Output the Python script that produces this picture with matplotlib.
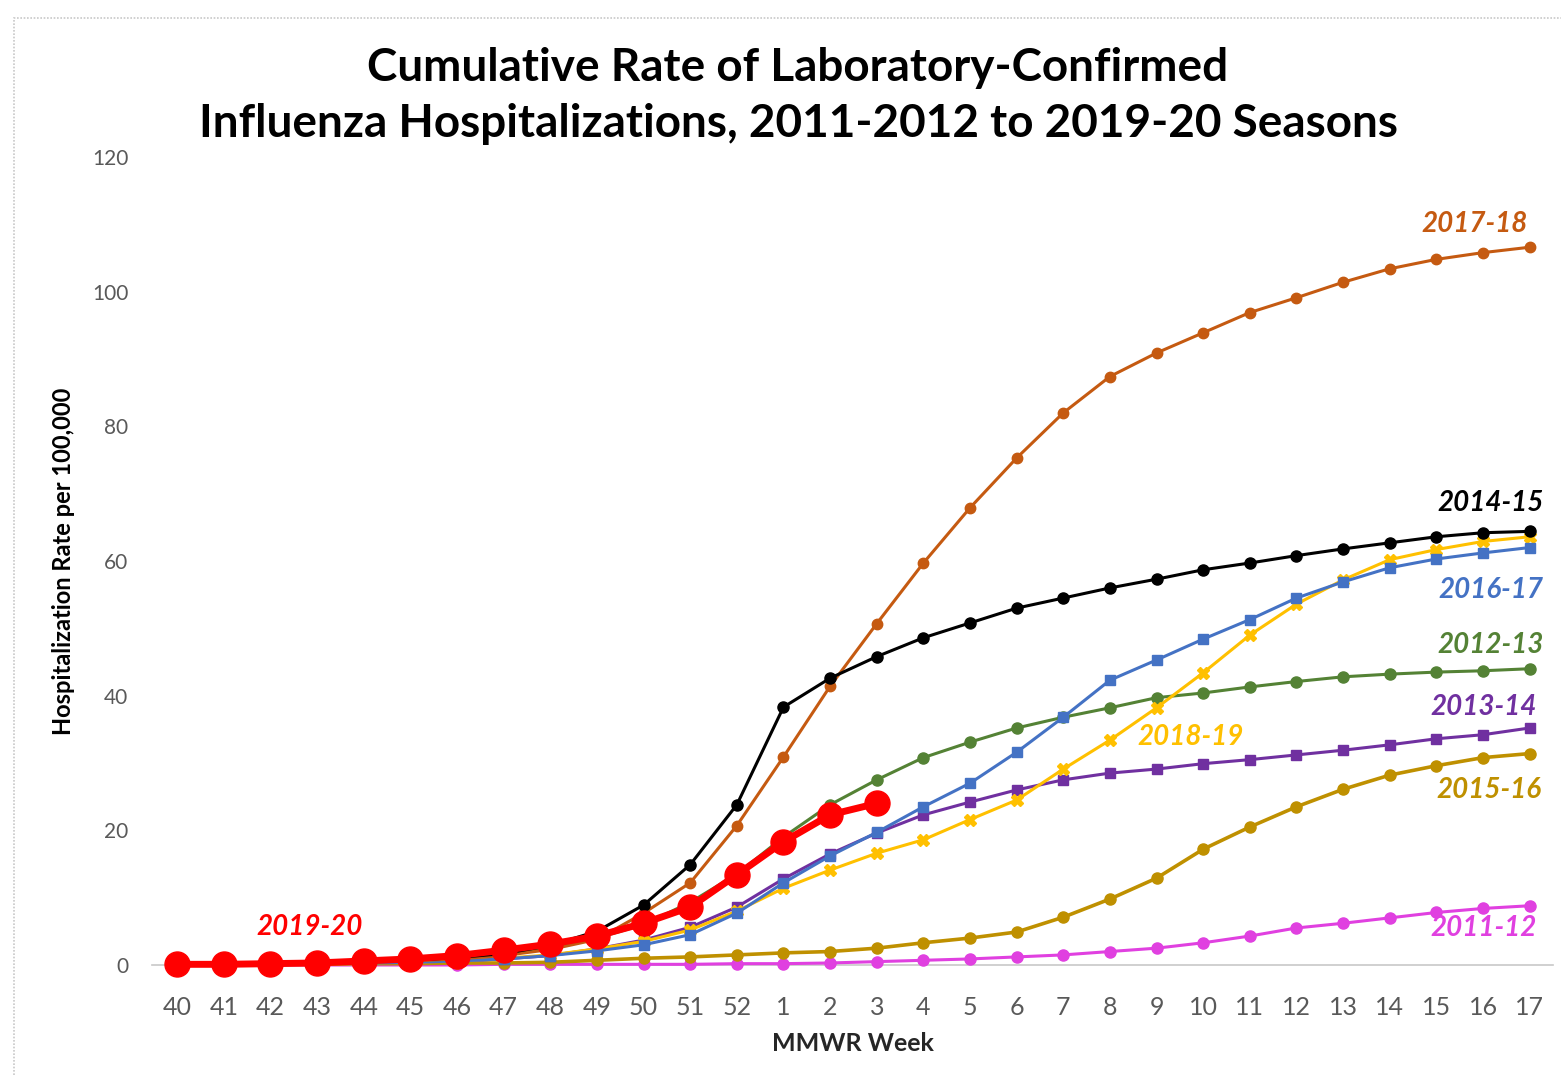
import matplotlib
matplotlib.use("Agg")
import matplotlib.pyplot as plt
from matplotlib.patches import Rectangle

plt.rcParams['font.family'] = ['Lato', 'DejaVu Sans']

weeks = ['40', '41', '42', '43', '44', '45', '46', '47', '48', '49', '50', '51', '52',
         '1', '2', '3', '4', '5', '6', '7', '8', '9', '10', '11', '12', '13', '14', '15', '16', '17']

s2011_12 = [0.0, 0.0, 0.0, 0.0, 0.0, 0.0, 0.0, 0.1, 0.1, 0.1, 0.1, 0.1, 0.2,
            0.2, 0.3, 0.5, 0.7, 0.9, 1.2, 1.5, 2.0, 2.5, 3.3, 4.3, 5.5, 6.2, 7.0, 7.8, 8.4, 8.8]
s2012_13 = [0.1, 0.1, 0.2, 0.3, 0.4, 0.6, 1.0, 1.6, 2.6, 4.0, 6.0, 9.3, 13.5,
            19.0, 23.8, 27.5, 30.8, 33.1, 35.2, 36.8, 38.2, 39.7, 40.4, 41.3, 42.1, 42.8, 43.2, 43.5, 43.7, 44.0]
s2013_14 = [0.1, 0.1, 0.1, 0.2, 0.3, 0.4, 0.6, 0.9, 1.4, 2.4, 3.7, 5.6, 8.6,
            12.8, 16.5, 19.6, 22.3, 24.2, 26.0, 27.5, 28.5, 29.1, 29.9, 30.5, 31.2, 31.9, 32.7, 33.6, 34.2, 35.2]
s2014_15 = [0.1, 0.1, 0.2, 0.3, 0.5, 0.7, 1.1, 1.7, 2.9, 5.0, 8.9, 14.9, 23.8,
            38.3, 42.6, 45.8, 48.6, 50.8, 53.0, 54.5, 56.0, 57.3, 58.7, 59.7, 60.8, 61.8, 62.7, 63.6, 64.2, 64.4]
s2015_16 = [0.1, 0.1, 0.1, 0.1, 0.2, 0.2, 0.3, 0.3, 0.4, 0.7, 1.0, 1.2, 1.5,
            1.8, 2.0, 2.5, 3.3, 4.0, 4.9, 7.1, 9.8, 12.9, 17.2, 20.5, 23.5, 26.1, 28.2, 29.6, 30.8, 31.4]
s2016_17 = [0.1, 0.1, 0.1, 0.2, 0.3, 0.4, 0.6, 0.9, 1.4, 2.1, 3.0, 4.5, 7.7,
            12.2, 16.2, 19.7, 23.5, 27.0, 31.6, 36.8, 42.3, 45.3, 48.4, 51.3, 54.5, 56.9, 59.0, 60.3, 61.2, 62.0]
s2017_18 = [0.1, 0.1, 0.2, 0.3, 0.4, 0.6, 0.9, 1.4, 2.3, 3.8, 7.7, 12.2, 20.7,
            30.9, 41.4, 50.7, 59.7, 67.9, 75.3, 82.0, 87.4, 90.9, 93.9, 96.9, 99.1, 101.4, 103.4, 104.8, 105.8, 106.6]
s2018_19 = [0.1, 0.1, 0.1, 0.2, 0.3, 0.4, 0.6, 1.0, 1.5, 2.4, 3.5, 5.2, 8.0,
            11.4, 14.1, 16.6, 18.6, 21.6, 24.5, 29.1, 33.4, 38.2, 43.4, 49.0, 53.6, 57.2, 60.2, 61.7, 62.9, 63.6]
s2019_20 = [0.1, 0.1, 0.2, 0.3, 0.6, 0.9, 1.4, 2.2, 3.1, 4.3, 6.2, 8.6, 13.4,
            18.3, 22.3, 24.0]

season_names = ['2011-12', '2012-13', '2013-14', '2014-15', '2015-16',
                '2016-17', '2017-18', '2018-19', '2019-20']

W, H = 1561, 1075
fig = plt.figure(figsize=(W / 100, H / 100), dpi=100)
fig.patch.set_facecolor('white')

# outer frame (dotted light gray)
fig.patches.append(Rectangle((14 / W, -0.05), 1.2, (H - 18) / H + 0.05, transform=fig.transFigure,
                             fill=False, edgecolor='#c8c8c8', linewidth=1.2, linestyle=(0, (1, 1))))

ax = fig.add_axes([152 / W, (H - 965) / H, (1553 - 152) / W, (965 - 157) / H])
x = list(range(len(weeks)))

series = [
    (s2011_12, '#E040E0', 'o', 8, 2.2),
    (s2015_16, '#BF9000', 'o', 8, 2.6),
    (s2012_13, '#548235', 'o', 8, 2.2),
    (s2013_14, '#7030A0', 's', 7.5, 2.2),
    (s2018_19, '#FFC000', 'X', 8, 2.2),
    (s2016_17, '#4472C4', 's', 7, 2.2),
    (s2017_18, '#C55A11', 'o', 7.5, 2.2),
    (s2014_15, '#000000', 'o', 8, 2.2),
]
for vals, col, mk, ms, lw in series:
    ax.plot(x[:len(vals)], vals, color=col, marker=mk, markersize=ms, linewidth=lw,
            clip_on=False, zorder=3)
ax.plot(x[:len(s2019_20)], s2019_20, color='#FF0000', marker='o', markersize=18,
        linewidth=5, clip_on=False, zorder=5)

ax.set_xlim(-0.54, 29.5)
ax.set_ylim(0, 120)
ax.set_yticks([0, 20, 40, 60, 80, 100, 120])
ax.set_xticks(x)
ax.set_xticklabels(weeks)
for s in ['top', 'right', 'left']:
    ax.spines[s].set_visible(False)
ax.spines['bottom'].set_color('#c8c8c8')
ax.spines['bottom'].set_linestyle((0, (1, 1)))
ax.spines['bottom'].set_linewidth(1.2)
ax.tick_params(axis='both', length=0, colors='#595959')
ax.tick_params(axis='x', labelsize=18, pad=22)
ax.tick_params(axis='y', labelsize=15, pad=17)

ax.set_xlabel('MMWR Week', fontsize=18, fontweight='bold', color='#262626', labelpad=10)
ax.set_ylabel('Hospitalization Rate per 100,000', fontsize=17, fontweight='bold',
              color='#000000', labelpad=12)

fig.text(798 / W, 1 - 68 / H, 'Cumulative Rate of Laboratory-Confirmed', ha='center', va='center',
         fontsize=33, fontweight='bold', color='#000000')
fig.text(799 / W, 1 - 124 / H, 'Influenza Hospitalizations, 2011-2012 to 2019-20 Seasons',
         ha='center', va='center', fontsize=33, fontweight='bold', color='#000000')

labels = [
    ('2017-18', '#C55A11', 28.95, 110.0, 'right'),
    ('2014-15', '#000000', 29.3, 68.6, 'right'),
    ('2016-17', '#4472C4', 29.3, 55.7, 'right'),
    ('2012-13', '#548235', 29.3, 47.5, 'right'),
    ('2013-14', '#7030A0', 29.15, 38.3, 'right'),
    ('2018-19', '#FFC000', 21.72, 33.9, 'center'),
    ('2015-16', '#BF9000', 29.25, 26.0, 'right'),
    ('2011-12', '#E040E0', 29.15, 5.5, 'right'),
    ('2019-20', '#FF0000', 2.85, 5.6, 'center'),
]
for txt, col, lx, ly, ha in labels:
    ax.text(lx, ly, txt, color=col, fontsize=20, fontweight='bold', style='italic',
            ha=ha, va='center', zorder=6)

fig.savefig('out.png', dpi=100, facecolor='white')
